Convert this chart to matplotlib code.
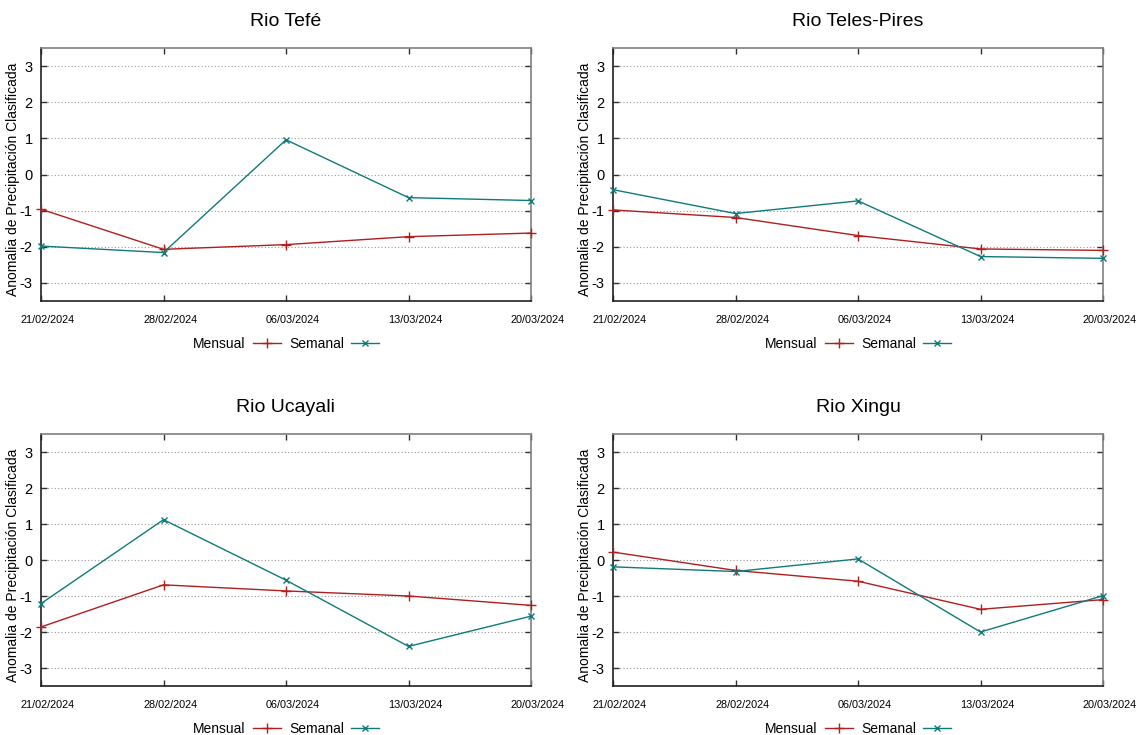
import matplotlib
matplotlib.use("Agg")
import matplotlib.pyplot as plt
import matplotlib.transforms as mtransforms

plt.rcParams['font.family'] = ['Liberation Sans', 'DejaVu Sans']

dates = ["21/02/2024", "28/02/2024", "06/03/2024", "13/03/2024", "20/03/2024"]
rivers = ["Rio Tefé", "Rio Teles-Pires", "Rio Ucayali", "Rio Xingu"]

mensual_tefe = [-0.96, -2.07, -1.94, -1.72, -1.62]
semanal_tefe = [-1.98, -2.16, 0.96, -0.64, -0.72]

mensual_teles = [-0.98, -1.19, -1.69, -2.06, -2.10]
semanal_teles = [-0.42, -1.08, -0.73, -2.27, -2.32]

mensual_ucayali = [-1.86, -0.69, -0.86, -1.00, -1.26]
semanal_ucayali = [-1.21, 1.12, -0.56, -2.40, -1.56]

mensual_xingu = [0.22, -0.29, -0.59, -1.37, -1.10]
semanal_xingu = [-0.19, -0.32, 0.03, -2.00, -0.99]

mensual = [mensual_tefe, mensual_teles, mensual_ucayali, mensual_xingu]
semanal = [semanal_tefe, semanal_teles, semanal_ucayali, semanal_xingu]

yticks = [-3, -2, -1, 0, 1, 2, 3]

W, H = 1138, 735
fig = plt.figure(figsize=(W / 100, H / 100), dpi=100)

# panel boxes in pixels: left, top, right, bottom
boxes = [
    (41, 48, 531, 301),
    (613, 48, 1103, 301),
    (41, 434, 531, 686),
    (613, 434, 1103, 686),
]

c_men = "#b01e1e"
c_sem = "#0f7a7a"

for i, (l, t, r, b) in enumerate(boxes):
    ax = fig.add_axes([l / W, 1 - b / H, (r - l) / W, (b - t) / H])
    x = list(range(len(dates)))
    ax.plot(x, mensual[i], color=c_men, lw=1.0, marker="+", ms=7, mew=1.0,
            label="Mensual", clip_on=False, zorder=3)
    ax.plot(x, semanal[i], color=c_sem, lw=1.0, marker="x", ms=5, mew=1.0,
            label="Semanal", clip_on=False, zorder=3)
    ax.set_xlim(0, len(dates) - 1)
    ax.set_ylim(-3.5, 3.5)
    ax.set_yticks(yticks)
    ax.set_yticklabels([str(v) for v in yticks], fontsize=10.5)
    ax.set_xticks(x)
    ax.set_xticklabels(dates, fontsize=7.8)
    ax.tick_params(axis='both', direction='in', top=True, right=True,
                   length=4, width=1.0, color="#303030")
    ax.tick_params(axis='x', pad=10)
    ax.tick_params(axis='y', pad=6)
    offset = mtransforms.ScaledTranslation(7 / 100, 0, fig.dpi_scale_trans)
    for lab in ax.get_xticklabels():
        lab.set_transform(lab.get_transform() + offset)
    ax.grid(axis='y', color="#9a9a9a", lw=0.8, ls=(0, (1, 2)))
    ax.set_axisbelow(True)
    for side, sp in ax.spines.items():
        sp.set_linewidth(1.2)
        sp.set_color("#202020" if side in ("left", "bottom") else "#808080")
    ax.set_ylabel("Anomalia de Precipitación Clasificada", fontsize=10)
    ax.yaxis.set_label_coords(-21 / (r - l), 0.5 - 5 / (b - t))
    ax.set_title(rivers[i], fontsize=14, pad=16)
    ax.legend(loc='center', bbox_to_anchor=(0.5, -0.17), ncol=2, frameon=False,
              markerfirst=False, fontsize=10, handlelength=2.0, numpoints=1,
              columnspacing=0.6, handletextpad=0.5)

fig.savefig("out.png", dpi=100)
